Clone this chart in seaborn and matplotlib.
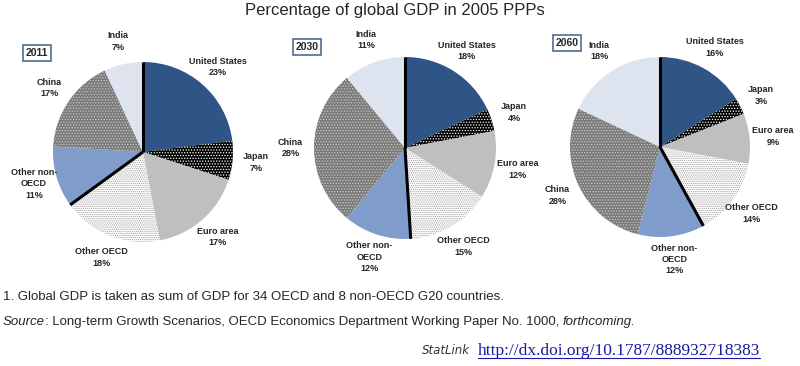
import matplotlib
matplotlib.use("Agg")
import matplotlib.pyplot as plt
import numpy as np
import seaborn as sns

# data
regions = ["United States", "Japan", "Euro area", "Other OECD", "Other non-\nOECD", "China", "India"]
years = ["2011", "2030", "2060"]
share_2011 = [23, 7, 17, 18, 11, 17, 7]
share_2030 = [18, 4, 12, 15, 12, 28, 11]
share_2060 = [16, 3, 9, 14, 12, 28, 18]
n_oecd = 4  # first four regions are OECD

face_colors = ["#2F5486", "#000000", "#BFBFBF", "#FFFFFF", "#7F9CCB", "#7A7A7A", "#DDE4F0"]
hatches = [None, "......", None, "........", None, "......", None]
hatch_colors = ["#2F5486", "#FFFFFF", "#BFBFBF", "#A0A0A0", "#7F9CCB", "#C8C8C8", "#DDE4F0"]

sns.set_theme(style="white")
plt.rcParams["font.family"] = ["Liberation Sans Narrow", "Liberation Sans", "DejaVu Sans"]
plt.rcParams["hatch.linewidth"] = 0.6

W, H = 800, 366
fig = plt.figure(figsize=(W / 100, H / 100), dpi=100)

# pixel centre, radius of each pie and position of the year box
pie_layout = [((143, 152), 90, (37, 53)), ((405, 148), 91, (307, 47)), ((660, 147), 90, (567, 43))]

for year, shares, (centre, r, box) in zip(years, [share_2011, share_2030, share_2060], pie_layout):
    cx, cy = centre
    ax = fig.add_axes([(cx - r) / W, (H - cy - r) / H, 2 * r / W, 2 * r / H])
    labels = [f"{name}\n{v}%" for name, v in zip(regions, shares)]
    wedges, texts = ax.pie(shares, labels=labels, startangle=90, counterclock=False,
                           colors=face_colors, labeldistance=1.26,
                           wedgeprops=dict(linewidth=0))
    for w, h, hc in zip(wedges, hatches, hatch_colors):
        if h:
            w.set_hatch(h)
            w.set_edgecolor(hc)
            w.set_linewidth(0)
    for t in texts:
        t.set_ha("center")
        t.set_va("center")
        t.set_fontsize(6.5)
        t.set_fontweight("bold")
        t.set_linespacing(1.35)
    # thick separators between OECD and non-OECD
    cum = np.cumsum([0] + shares) / sum(shares)
    for frac in [cum[0], cum[n_oecd]]:
        ang = np.deg2rad(90 - 360 * frac)
        ax.plot([0, np.cos(ang)], [0, np.sin(ang)], color="black", lw=2.2, solid_capstyle="butt")
    ax.set_xlim(-1, 1)
    ax.set_ylim(-1, 1)
    ax.set_aspect("equal")
    ax.axis("off")
    fig.text(box[0] / W, 1 - box[1] / H, year, ha="center", va="center", fontsize=7.5,
             fontweight="bold", family=["Liberation Sans", "DejaVu Sans"],
             bbox=dict(boxstyle="square,pad=0.25", facecolor="white", edgecolor="#4F6D8F", lw=1.2))

fig.text(395 / W, 1 - 10 / H, "Percentage of global GDP in 2005 PPPs", ha="center", va="center",
         fontsize=12, family=["Liberation Sans", "DejaVu Sans"])

fig.text(3 / W, 1 - 297 / H, "1. Global GDP is taken as sum of GDP for 34 OECD and 8 non-OECD G20 countries.",
         ha="left", va="center", fontsize=9.5)
src = fig.text(3 / W, 1 - 322 / H, "Source", ha="left", va="center", fontsize=9.5, style="italic")
fig.canvas.draw()
renderer = fig.canvas.get_renderer()
x_next = src.get_window_extent(renderer).x1
rest = fig.text(x_next / W, 1 - 322 / H, ": Long-term Growth Scenarios, OECD Economics Department Working Paper No. 1000, ",
                ha="left", va="center", fontsize=9.5)
fig.canvas.draw()
x_next = rest.get_window_extent(renderer).x1
fig.text(x_next / W, 1 - 322 / H, "forthcoming.", ha="left", va="center", fontsize=9.5, style="italic")

fig.text(470 / W, 1 - 351 / H, "StatLink", ha="right", va="center", fontsize=8.5, style="italic",
         family=["DejaVu Sans"], color="#333333")
url = fig.text(478 / W, 1 - 351 / H, "http://dx.doi.org/10.1787/888932718383", ha="left", va="center",
               fontsize=12.5, family=["Liberation Serif", "DejaVu Serif"], color="#1A1AA6")
fig.canvas.draw()
bb = url.get_window_extent(renderer)
fig.add_artist(plt.Line2D([bb.x0 / W, bb.x1 / W], [(bb.y0 + 1) / H] * 2, color="#1A1AA6", lw=0.8))

fig.savefig("out.png", dpi=100)
